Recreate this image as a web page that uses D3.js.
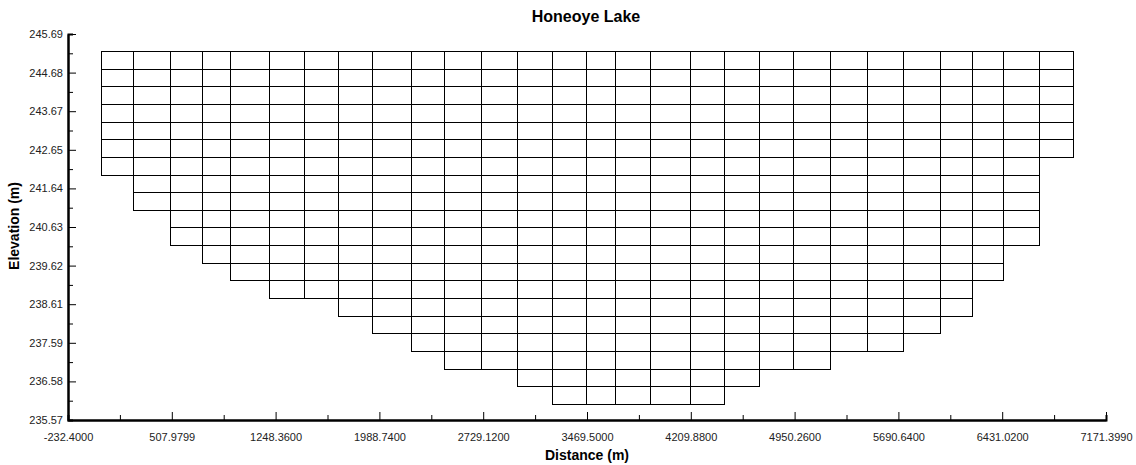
<!DOCTYPE html>
<html>
<head>
<meta charset="utf-8">
<script src="https://cdn.jsdelivr.net/npm/d3@7"></script>
<style>
  body { margin: 0; background: #fff; }
  svg { display: block; font-family: Arial, "Liberation Sans", sans-serif; }
  .axis text { font-size: 11px; fill: #222; }
  .axis .domain { stroke: #000; stroke-width: 2px; }
  .axis .tick line { stroke: #000; }
</style>
</head>
<body>
<svg id="chart" width="1136" height="465"></svg>
<script>
// segment (column) edges, distance in m
let segEdges = [0, 233, 495, 721, 923, 1203, 1451, 1691, 1934, 2212, 2452, 2716, 2972,
  3222, 3462, 3669, 3919, 4204, 4447, 4699, 4941, 5203, 5469, 5726, 5987, 6214, 6439, 6694, 6939];
// number of active layers in each segment
let segLayers = [7, 9, 11, 12, 13, 14, 14, 15, 16, 17, 18, 18, 19, 20, 20, 20, 20, 20,
  19, 18, 18, 17, 17, 16, 15, 13, 11, 6];
// layer boundary elevations (m), top to bottom
let layerElev = [245.24, 244.78, 244.32, 243.85, 243.39, 242.93, 242.47, 242.00, 241.54,
  241.08, 240.62, 240.15, 239.69, 239.23, 238.77, 238.30, 237.84, 237.38, 236.92, 236.45, 235.99];

let xTicks = [-232.4, 507.9799, 1248.36, 1988.74, 2729.12, 3469.5, 4209.88, 4950.26, 5690.64, 6431.02, 7171.399];
let xTickLabels = ["-232.4000", "507.9799", "1248.3600", "1988.7400", "2729.1200", "3469.5000",
  "4209.8800", "4950.2600", "5690.6400", "6431.0200", "7171.3990"];
let yTicks = [235.57, 236.582, 237.594, 238.606, 239.618, 240.63, 241.642, 242.654, 243.666, 244.678, 245.69];
let yTickLabels = ["235.57", "236.58", "237.59", "238.61", "239.62", "240.63", "241.64",
  "242.65", "243.67", "244.68", "245.69"];

let svg = d3.select("#chart");

let x = d3.scaleLinear()
  .domain([xTicks[0], xTicks[xTicks.length - 1]])
  .range([68, 1106]);

let y = d3.scaleLinear()
  .domain([yTicks[0], yTicks[yTicks.length - 1]])
  .range([420, 34]);

// build cell list
let cells = [];
segLayers.forEach((n, i) => {
  for (let k = 0; k < n; k++) {
    cells.push({x0: segEdges[i], x1: segEdges[i + 1], top: layerElev[k], bot: layerElev[k + 1]});
  }
});

svg.append("g")
  .attr("class", "cells")
  .selectAll("rect")
  .data(cells)
  .enter()
  .append("rect")
  .attr("x", d => Math.round(x(d.x0)) + 0.5)
  .attr("y", d => Math.round(y(d.top)) + 0.5)
  .attr("width", d => Math.round(x(d.x1)) - Math.round(x(d.x0)))
  .attr("height", d => Math.round(y(d.bot)) - Math.round(y(d.top)))
  .style("fill", "none")
  .style("stroke", "#000")
  .style("stroke-width", 1);

// minor tick midpoints
let mid = arr => arr.slice(1).map((v, i) => (v + arr[i]) / 2);

svg.append("g")
  .attr("class", "axis")
  .attr("transform", "translate(0,420)")
  .call(d3.axisBottom(x).tickValues(mid(xTicks)).tickSize(-5).tickFormat(""));

svg.append("g")
  .attr("class", "axis")
  .attr("transform", "translate(68,0)")
  .call(d3.axisLeft(y).tickValues(mid(yTicks)).tickSize(-5).tickFormat(""));

svg.append("g")
  .attr("class", "x axis")
  .attr("transform", "translate(0,420)")
  .call(d3.axisBottom(x)
    .tickValues(xTicks)
    .tickSizeInner(-8)
    .tickSizeOuter(0)
    .tickPadding(13)
    .tickFormat((d, i) => xTickLabels[i]));

svg.append("g")
  .attr("class", "y axis")
  .attr("transform", "translate(68,0)")
  .call(d3.axisLeft(y)
    .tickValues(yTicks)
    .tickSizeInner(-8)
    .tickSizeOuter(0)
    .tickPadding(5)
    .tickFormat((d, i) => yTickLabels[i]));

svg.append("text")
  .attr("x", 586)
  .attr("y", 22)
  .attr("text-anchor", "middle")
  .style("font-size", "16px")
  .style("font-weight", "bold")
  .text("Honeoye Lake");

svg.append("text")
  .attr("x", 587)
  .attr("y", 460)
  .attr("text-anchor", "middle")
  .style("font-size", "14px")
  .style("font-weight", "bold")
  .text("Distance (m)");

svg.append("text")
  .attr("transform", "translate(19,226) rotate(-90)")
  .attr("text-anchor", "middle")
  .style("font-size", "14px")
  .style("font-weight", "bold")
  .text("Elevation (m)");
</script>
</body>
</html>
